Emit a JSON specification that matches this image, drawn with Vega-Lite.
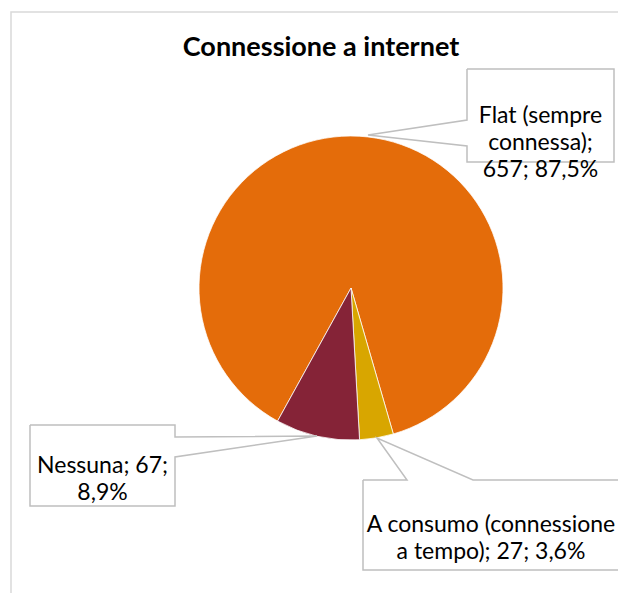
{
  "$schema": "https://vega.github.io/schema/vega-lite/v6.json",
  "width": 618,
  "height": 593,
  "autosize": {"type": "fit", "contains": "padding"},
  "padding": 0,
  "background": "#ffffff",
  "config": {"view": {"stroke": null}},
  "datasets": {
    "slices": [
      {"cat": "Flat (sempre connessa)", "n": 657, "pct": 87.5, "ord": 1},
      {"cat": "A consumo (connessione a tempo)", "n": 27, "pct": 3.6, "ord": 2},
      {"cat": "Nessuna", "n": 67, "pct": 8.9, "ord": 3}
    ],
    "callouts": [
      {"cat": "Flat (sempre connessa)", "label": "Flat (sempre\nconnessa);\n657; 87,5%", "x": 189.5, "y": 172.5},
      {"cat": "A consumo (connessione a tempo)", "label": "A consumo (connessione\na tempo); 27; 3,6%", "x": 140, "y": -237},
      {"cat": "Nessuna", "label": "Nessuna; 67;\n8,9%", "x": -248.5, "y": -177.5}
    ],
    "outlines": [
      {"cat": "Flat", "i": 0, "x": 116, "y": 219},
      {"cat": "Flat", "i": 1, "x": 263, "y": 219},
      {"cat": "Flat", "i": 2, "x": 263, "y": 126},
      {"cat": "Flat", "i": 3, "x": 116, "y": 126},
      {"cat": "Flat", "i": 4, "x": 116, "y": 142},
      {"cat": "Flat", "i": 5, "x": 17, "y": 153},
      {"cat": "Flat", "i": 6, "x": 116, "y": 168},
      {"cat": "Flat", "i": 7, "x": 116, "y": 219},
      {"cat": "Consumo", "i": 0, "x": 12, "y": -192},
      {"cat": "Consumo", "i": 1, "x": 56, "y": -192},
      {"cat": "Consumo", "i": 2, "x": 26, "y": -150},
      {"cat": "Consumo", "i": 3, "x": 122, "y": -192},
      {"cat": "Consumo", "i": 4, "x": 281, "y": -192},
      {"cat": "Consumo", "i": 5, "x": 281, "y": -282},
      {"cat": "Consumo", "i": 6, "x": 12, "y": -282},
      {"cat": "Consumo", "i": 7, "x": 12, "y": -192},
      {"cat": "Nessuna", "i": 0, "x": -321, "y": -137},
      {"cat": "Nessuna", "i": 1, "x": -176, "y": -137},
      {"cat": "Nessuna", "i": 2, "x": -176, "y": -149},
      {"cat": "Nessuna", "i": 3, "x": -34, "y": -148},
      {"cat": "Nessuna", "i": 4, "x": -176, "y": -169},
      {"cat": "Nessuna", "i": 5, "x": -176, "y": -218},
      {"cat": "Nessuna", "i": 6, "x": -321, "y": -218},
      {"cat": "Nessuna", "i": 7, "x": -321, "y": -137}
    ]
  },
  "layer": [
    {
      "data": {"values": [{}]},
      "mark": {"type": "rect", "fill": null, "fillOpacity": 0, "stroke": "#D9D9D9", "strokeWidth": 1.5, "clip": true},
      "encoding": {
        "x": {"datum": -340, "type": "quantitative", "scale": {"domain": [-351, 267], "nice": false, "zero": false}, "axis": null},
        "x2": {"datum": 320},
        "y": {"datum": 276, "type": "quantitative", "scale": {"domain": [-305, 288], "nice": false, "zero": false}, "axis": null},
        "y2": {"datum": -330}
      }
    },
    {
      "data": {"name": "slices"},
      "mark": {"type": "arc", "radius": 152, "stroke": "#ffffff", "strokeWidth": 0.75},
      "encoding": {
        "x": {"datum": 0, "type": "quantitative", "axis": null},
        "y": {"datum": 0, "type": "quantitative", "axis": null},
        "theta": {"field": "n", "type": "quantitative", "stack": true, "scale": {"range": [3.646, 9.929]}},
        "order": {"field": "ord", "type": "quantitative"},
        "color": {
          "field": "cat", "type": "nominal", "legend": null,
          "scale": {"domain": ["Flat (sempre connessa)", "A consumo (connessione a tempo)", "Nessuna"], "range": ["#E46C0A", "#D8A600", "#852337"]}
        }
      }
    },
    {
      "data": {"name": "outlines"},
      "mark": {"type": "line", "stroke": "#BFBFBF", "strokeWidth": 1.5, "clip": true, "strokeJoin": "miter"},
      "encoding": {
        "x": {"field": "x", "type": "quantitative", "axis": null},
        "y": {"field": "y", "type": "quantitative", "axis": null},
        "detail": {"field": "cat", "type": "nominal"},
        "order": {"field": "i", "type": "quantitative"}
      }
    },
    {
      "data": {"name": "callouts"},
      "mark": {"type": "text", "lineBreak": "\n", "font": "Lato", "fontSize": 23, "lineHeight": 27, "align": "center", "baseline": "middle", "color": "#000000"},
      "encoding": {
        "x": {"field": "x", "type": "quantitative", "axis": null},
        "y": {"field": "y", "type": "quantitative", "axis": null},
        "text": {"field": "label", "type": "nominal"}
      }
    },
    {
      "data": {"values": [{}]},
      "mark": {"type": "text", "font": "Lato", "fontSize": 27, "fontWeight": "bold", "align": "center", "baseline": "middle", "color": "#000000"},
      "encoding": {
        "x": {"datum": -30, "type": "quantitative", "axis": null},
        "y": {"datum": 240, "type": "quantitative", "axis": null},
        "text": {"value": "Connessione a internet"}
      }
    }
  ]
}
